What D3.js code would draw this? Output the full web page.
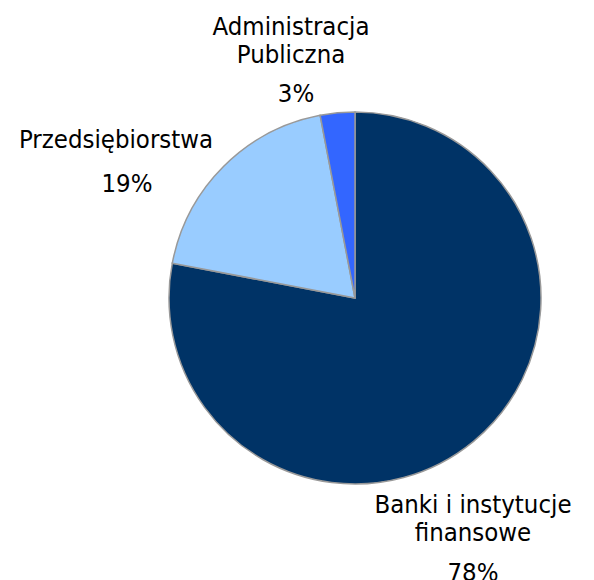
<!DOCTYPE html>
<html>
<head>
<meta charset="utf-8">
<script src="https://cdn.jsdelivr.net/npm/d3@7"></script>
<style>
  body { margin: 0; background: #fff; }
  text { font-family: "DejaVu Sans Condensed", "DejaVu Sans", Verdana, sans-serif; font-stretch: condensed; fill: #000; }
</style>
</head>
<body>
<div id="chart"></div>
<script>
// chart data
var categories = ["Banki i instytucje finansowe", "Przedsiębiorstwa", "Administracja Publiczna"];
var labelLines = [["Banki i instytucje", "finansowe"], ["Przedsiębiorstwa"], ["Administracja", "Publiczna"]];
var shares = [78, 19, 3];
var colors = ["#003366", "#99ccff", "#3366ff"];

function init() {
    var w = 594, h = 580;
    var cx = 355, cy = 298, r = 186;

    var svg = d3.select("#chart")
                .append("svg")
                .attr("width", w)
                .attr("height", h);

    var g = svg.append("g")
               .attr("transform", "translate(" + cx + "," + cy + ")");

    var pie = d3.pie().sort(null).value(function(d) { return d; });
    var arc = d3.arc().innerRadius(0).outerRadius(r);
    var arcs = pie(shares);

    g.selectAll("path")
     .data(arcs)
     .enter()
     .append("path")
     .attr("d", arc)
     .attr("fill", function(d, i) { return colors[i]; })
     .attr("stroke", "#999")
     .attr("stroke-width", 1.5);

    // label anchors (first line baseline), relative to pie centre
    var labelPos = [[118, 215], [-239, -150], [-64, -263]];
    var pctShift = [0, 11, 5];
    var lineGap = 28, pctGap = [40, 44, 39];

    arcs.forEach(function(d, i) {
        var lines = labelLines[i];
        var t = g.append("text")
                 .attr("text-anchor", "middle")
                 .style("font-size", "25.5px");
        lines.forEach(function(line, k) {
            t.append("tspan")
             .attr("x", labelPos[i][0])
             .attr("y", labelPos[i][1] + k * lineGap)
             .text(line);
        });
        t.append("tspan")
         .attr("x", labelPos[i][0] + pctShift[i])
         .attr("y", labelPos[i][1] + (lines.length - 1) * lineGap + pctGap[i])
         .text(d3.format(".0f")(d.value) + "%");
    });
}

window.onload = init;
</script>
</body>
</html>
